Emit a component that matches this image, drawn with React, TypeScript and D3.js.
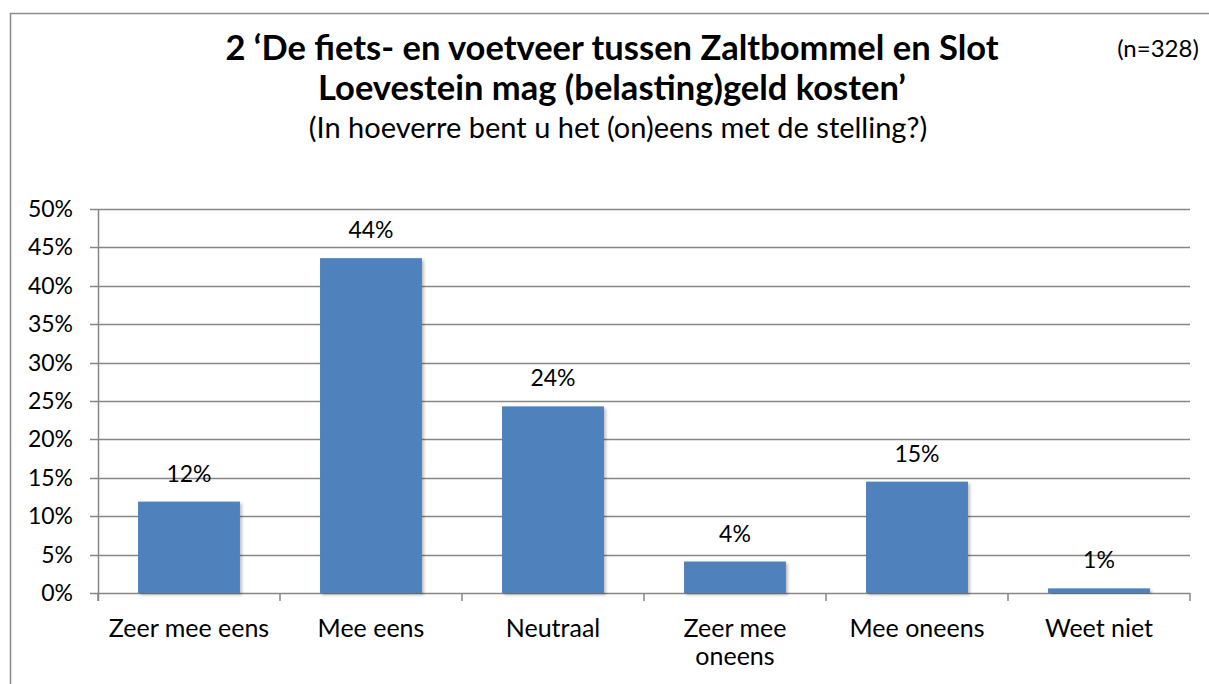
import React from "react";
import * as d3 from "d3";

const categories = ["Zeer mee eens", "Mee eens", "Neutraal", "Zeer mee oneens", "Mee oneens", "Weet niet"];
const categoryLines = [["Zeer mee eens"], ["Mee eens"], ["Neutraal"], ["Zeer mee", "oneens"], ["Mee oneens"], ["Weet niet"]];
const values = [11.9, 43.6, 24.3, 4.1, 14.5, 0.6];
const valueLabels = ["12%", "44%", "24%", "4%", "15%", "1%"];
const yTicks = [0, 5, 10, 15, 20, 25, 30, 35, 40, 45, 50];
const titleLines = ["2 \u2018De fiets- en voetveer tussen Zaltbommel en Slot", "Loevestein mag (belasting)geld kosten\u2019"];
const subtitle = "(In hoeverre bent u het (on)eens met de stelling?)";
const nLabel = "(n=328)";

export default function App() {
  const W = 1209, H = 684;
  const left = 98, right = 1190, top = 209, bottom = 593;
  const x = d3.scaleBand().domain(categories).range([left, right]).paddingInner(0.44).paddingOuter(0.22);
  const y = d3.scaleLinear().domain([0, 50]).range([bottom, top]);
  const font = "Lato, Carlito, Calibri, sans-serif";
  const grid = "#868686";
  const step = (right - left) / categories.length;
  return (
    <svg width={W} height={H} style={{ position: "absolute", left: 0, top: 0, fontFamily: font }}>
      <defs>
        <filter id="sh" x="-20%" y="-20%" width="140%" height="140%">
          <feDropShadow dx="2" dy="2" stdDeviation="1.5" floodColor="#000" floodOpacity="0.25" />
        </filter>
      </defs>
      <rect x={0} y={0} width={W} height={H} fill="#fff" />
      <rect x={10.5} y={13.5} width={1230} height={700} fill="none" stroke="#8a8a8a" strokeWidth={1.5} />
      {titleLines.map((t, i) => (
        <text key={i} x={612} y={60 + i * 40} textAnchor="middle" fontSize={34.5} fontWeight="bold" fill="#000">{t}</text>
      ))}
      <text x={618} y={138} textAnchor="middle" fontSize={29} fill="#000">{subtitle}</text>
      <text x={1158} y={57} textAnchor="middle" fontSize={24} fill="#000">{nLabel}</text>
      {yTicks.map((t) => (
        <g key={t}>
          <line x1={left - 8} x2={right} y1={Math.round(y(t)) + 0.5} y2={Math.round(y(t)) + 0.5} stroke={grid} strokeWidth={1.5} />
          <text x={73} y={y(t) + 8} textAnchor="end" fontSize={23} fill="#000">{t}%</text>
        </g>
      ))}
      <line x1={left + 0.5} x2={left + 0.5} y1={top} y2={bottom + 8} stroke={grid} strokeWidth={1.5} />
      {d3.range(categories.length + 1).map((i) => (
        <line key={i} x1={left + i * step} x2={left + i * step} y1={bottom} y2={bottom + 8} stroke={grid} strokeWidth={1.5} />
      ))}
      {categories.map((c, i) => (
        <g key={c}>
          <rect x={x(c)} y={y(values[i])} width={x.bandwidth()} height={bottom - y(values[i])} fill="#4f81bd" filter="url(#sh)" />
          <text x={(x(c) as number) + x.bandwidth() / 2} y={y(values[i]) - 20} textAnchor="middle" fontSize={23} fill="#000">{valueLabels[i]}</text>
          {categoryLines[i].map((l, j) => (
            <text key={j} x={(x(c) as number) + x.bandwidth() / 2} y={637 + j * 28} textAnchor="middle" fontSize={25} fill="#000">{l}</text>
          ))}
        </g>
      ))}
    </svg>
  );
}
